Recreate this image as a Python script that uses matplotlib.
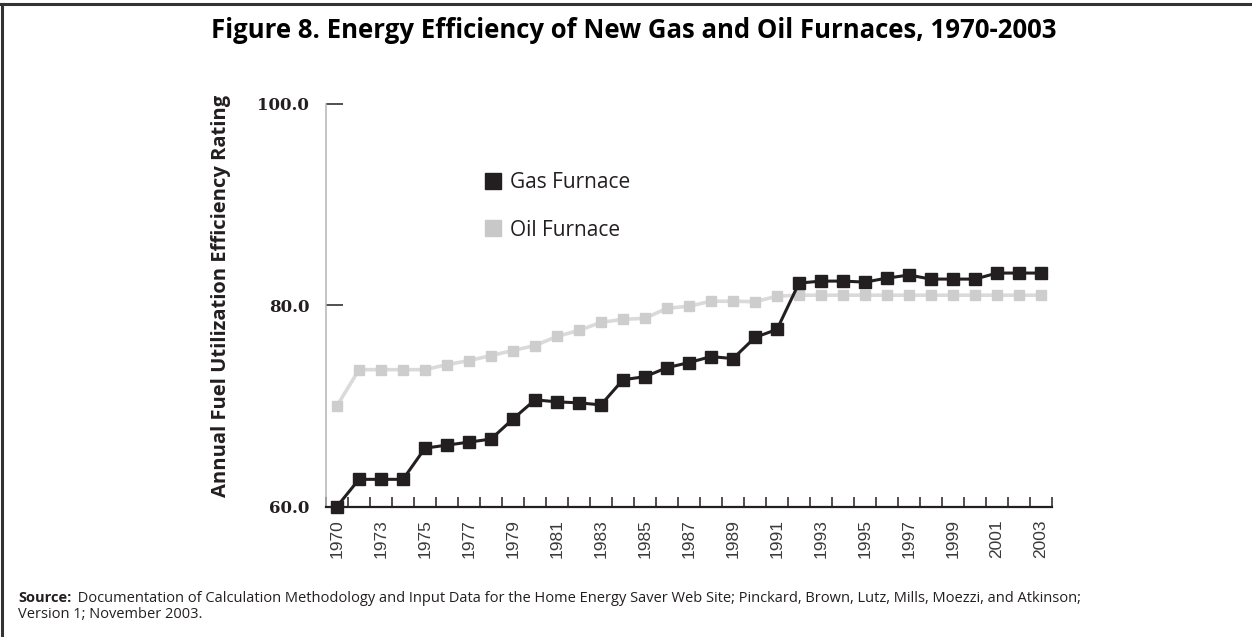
import matplotlib
matplotlib.use("Agg")
import matplotlib.pyplot as plt
from matplotlib.lines import Line2D
import numpy as np

# ---- data ----
years = [1970] + list(range(1972, 2004))
tick_labels = [str(y) for y in years[::2]]
gas = [60.0, 62.7, 62.7, 62.7, 65.8, 66.1, 66.4, 66.7, 68.7, 70.6, 70.4,
       70.3, 70.1, 72.6, 72.9, 73.8, 74.3, 74.9, 74.7, 76.8, 77.6, 82.2,
       82.4, 82.4, 82.3, 82.7, 83.0, 82.6, 82.6, 82.6, 83.2, 83.2, 83.2]
oil = [70.0, 73.6, 73.6, 73.6, 73.6, 74.1, 74.5, 75.0, 75.5, 76.0, 76.9,
       77.5, 78.3, 78.6, 78.7, 79.7, 79.9, 80.4, 80.4, 80.35, 80.9, 81.0,
       81.0, 81.0, 81.0, 81.0, 81.0, 81.0, 81.0, 81.0, 81.0, 81.0, 81.0]
yticks = [60.0, 80.0, 100.0]
series_names = ["Gas Furnace", "Oil Furnace"]
title = "Figure 8. Energy Efficiency of New Gas and Oil Furnaces, 1970-2003"
ylabel = "Annual Fuel Utilization Efficiency Rating"
source_bold = "Source:"
source_rest = " Documentation of Calculation Methodology and Input Data for the Home Energy Saver Web Site; Pinckard, Brown, Lutz, Mills, Moezzi, and Atkinson;"
source_line2 = "Version 1; November 2003."

W, H = 1252, 637
DPI = 100
fig = plt.figure(figsize=(W / DPI, H / DPI), dpi=DPI)
fig.patch.set_facecolor("white")

def fx(px):
    return px / W

def fy(py):
    return 1 - py / H

left, right, top, bottom = 326, 1052, 104, 506.5
ax = fig.add_axes([fx(left), fy(bottom), (right - left) / W, (bottom - top) / H])

DARK = "#231f20"
SANS = "Open Sans"
x = np.arange(len(years))
ax.plot(x, oil, color="#dadada", lw=2.6, marker="s", ms=7.6,
        mfc="#cdcdcd", mec="#cdcdcd", zorder=3, clip_on=False)
ax.plot(x, gas, color=DARK, lw=2.2, marker="s", ms=8.6,
        mfc=DARK, mec=DARK, zorder=4, clip_on=False)

ax.set_xlim(-0.5, len(years) - 0.5)
ax.set_ylim(60, 100)

for s in ["top", "right"]:
    ax.spines[s].set_visible(False)
ax.spines["left"].set_color("#b4b4b4")
ax.spines["left"].set_linewidth(1.1)
ax.spines["bottom"].set_color(DARK)
ax.spines["bottom"].set_linewidth(1.6)

ax.set_yticks(yticks)
ax.set_yticklabels([f"{v:.1f}" for v in yticks])
ax.tick_params(axis="y", direction="in", length=12.5, width=1.1, color=DARK,
               pad=12, labelsize=12, labelcolor=DARK)
for t in ax.get_yticklabels():
    t.set_fontfamily("DejaVu Serif")
    t.set_fontweight("bold")

ax.set_xticks(x[::2])
ax.set_xticklabels(tick_labels, rotation=90, fontfamily="Liberation Sans",
                   fontsize=12.5, color="#3a3a3a")
ax.tick_params(axis="x", which="major", length=0, pad=9)
ax.set_xticks(np.arange(-0.5, len(years), 1.0), minor=True)
ax.tick_params(axis="x", which="minor", direction="in", length=7.5,
               width=1.1, color=DARK)

# title
fig.text(fx(633.5), fy(31), title, ha="center", va="center",
         fontfamily=SANS, fontweight="bold", fontsize=18.5, color="black")

# y label
fig.text(fx(221), fy(296), ylabel, rotation=90, ha="center", va="center",
         fontfamily=SANS, fontweight="bold", fontsize=14.5, color=DARK)

# legend
handles = [Line2D([], [], ls="none", marker="s", ms=12.2, mfc=DARK, mec=DARK),
           Line2D([], [], ls="none", marker="s", ms=12.2, mfc="#c8c8c8", mec="#c8c8c8")]
leg = fig.legend(handles, series_names, loc="upper left",
                 bbox_to_anchor=(fx(484), fy(172)), bbox_transform=fig.transFigure,
                 frameon=False, borderpad=0, borderaxespad=0, handlelength=0.87,
                 handletextpad=0.4, labelspacing=1.28,
                 prop={"family": SANS, "size": 15})
for t in leg.get_texts():
    t.set_color(DARK)

# source
FS = 10.5
sb = fig.text(fx(18), fy(601.5), source_bold, ha="left", va="baseline",
              fontfamily=SANS, fontweight="bold", fontsize=FS, color=DARK)
fig.canvas.draw()
bb = sb.get_window_extent()
fig.text(bb.x1 / W + fx(3), fy(601.5), source_rest, ha="left", va="baseline",
         fontfamily=SANS, fontsize=FS, color=DARK)
fig.text(fx(18), fy(617.5), source_line2, ha="left", va="baseline",
         fontfamily=SANS, fontsize=FS, color=DARK)

# frame lines (top and left)
fig.add_artist(Line2D([0, 1], [fy(4), fy(4)], transform=fig.transFigure,
                      color="#333333", lw=2.2))
fig.add_artist(Line2D([fx(2), fx(2)], [fy(4), 0], transform=fig.transFigure,
                      color="#333333", lw=2.2))

fig.savefig("out.png", dpi=DPI)
